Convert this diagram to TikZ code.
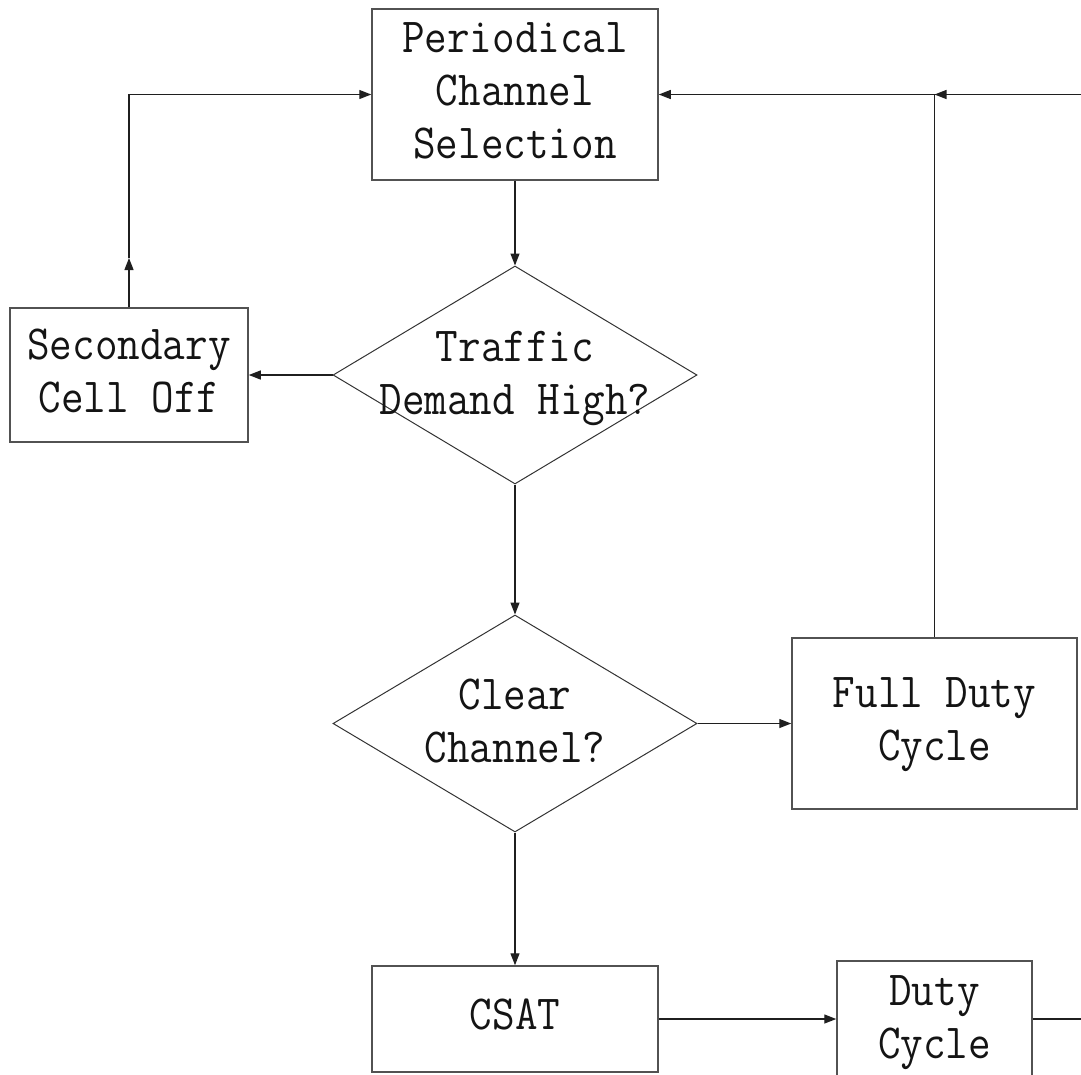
\documentclass[tikz,border=0pt]{standalone}
\usepackage{fontspec}
\usepackage{graphicx}
\usetikzlibrary{arrows.meta,shapes.geometric}
% centred multi-line label, set in a slightly condensed typewriter face
\newcommand\lbl[1]{\scalebox{0.895}[1]{\begin{tabular}{@{}c@{}}#1\end{tabular}}}
\begin{document}
\begin{tikzpicture}[x=1pt,y=-1pt,
  every node/.style={font=\fontsize{49}{53}\selectfont\ttfamily, text=black!92, inner sep=0pt},
  box/.style={draw=black!68, line width=1.5pt, rectangle},
  dia/.style={draw=black!80, line width=1pt, diamond, aspect=1},
  arr/.style={draw=black!88, line width=1.3pt, -{Triangle[length=12pt,width=9pt]}},
  ln/.style={draw=black!88, line width=1.3pt}]
\useasboundingbox (0,0) rectangle (1081,1074);
\clip (0,0) rectangle (1081,1074);

% process boxes
\node[box, minimum width=286pt, minimum height=171pt] (per) at (515,94.5) {\lbl{Periodical\\Channel\\Selection}};
\node[box, minimum width=238pt, minimum height=134pt] (sec) at (129,375) {\lbl{Secondary\\Cell Off}};
\node[box, minimum width=285pt, minimum height=171pt] (fdc) at (934.5,723.5) {\lbl{Full Duty\\Cycle}};
\node[box, minimum width=286pt, minimum height=106pt] (csat) at (515,1019) {\lbl{CSAT}};
\node[box, minimum width=195pt, minimum height=140pt] (dc) at (934.5,1031) {};
\node (dct) at (934.5,1021) {\lbl{Duty\\Cycle}};

% decisions
\node[dia, minimum width=364pt, minimum height=218pt] (d1) at (515,375) {};
\node (d1t) at (515,377) {\lbl{Traffic\\Demand High?}};
\node[dia, minimum width=364pt, minimum height=217pt] (d2) at (515,723.5) {};
\node (d2t) at (515,725) {\lbl{Clear\\Channel?}};

% helper points for the loop-back lines
\coordinate (up) at (129,258);
\coordinate (jn) at (fdc.north |- per.east);
\coordinate (inR) at (1081,94.5);
\coordinate (outR) at (1081,1019);

% connectors
\draw[arr] (per.south) -- (d1.north);
\draw[arr] (d1.west) -- (sec.east);
\draw[arr] (sec.north) -- (up);
\draw[arr] (up) |- (per.west);
\draw[arr] (d1.south) -- (d2.north);
\draw[arr] (d2.east) -- (fdc.west);
\draw[arr] (inR) -- (jn);
\draw[arr] (fdc.north) |- (per.east);
\draw[arr] (d2.south) -- (csat.north);
\draw[arr] (csat.east) -- (csat.east -| dc.west);
\draw[ln] (csat.east -| dc.east) -- (outR);
\end{tikzpicture}
\end{document}
